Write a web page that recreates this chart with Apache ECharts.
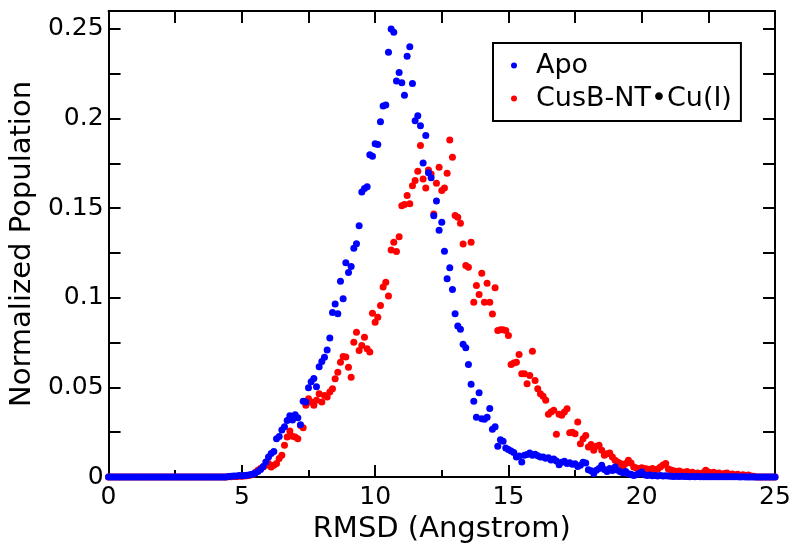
<!DOCTYPE html>
<html>
<head>
<meta charset="utf-8">
<script src="https://cdn.jsdelivr.net/npm/echarts@6/dist/echarts.min.js"></script>
<style>
html,body{margin:0;padding:0;background:#fff;}
#chart{width:800px;height:553px;}
</style>
</head>
<body>
<div id="chart"></div>
<script>
// Histogram bins: RMSD values from 0 to 25 Angstrom in 0.1 steps
const binStart = 0, binStep = 0.1, binCount = 251;

// Apo (blue) normalized population per bin
const apo = [
0,0,0,0,0,0,0,0,0,0,
0,0,0,0,0,0,0,0,0,0,
0,0,0,0,0,0,0,0,0,0,
0,0,0,0,0,0,0,0,0,0,
0,0,0,0,0,0.0003,0.0004,0.0005,0.0006,0.0008,
0.0007,0.0009,0.0010,0.0012,0.0016,0.0022,0.0030,0.0042,0.0058,0.0084,
0.0111,0.0131,0.0142,0.0214,0.0226,0.0262,0.0281,0.0315,0.0342,0.0318,
0.0348,0.0331,0.0292,0.0423,0.0418,0.0498,0.0532,0.0549,0.0503,0.0615,
0.0645,0.0668,0.0709,0.0776,0.0918,0.0965,0.0911,0.1092,0.0994,0.1196,
0.1141,0.1174,0.1276,0.1302,0.1402,0.1590,0.1610,0.1620,0.1798,0.1790,
0.1860,0.1855,0.1982,0.2070,0.2076,0.2370,0.2500,0.2482,0.2210,0.2257,
0.2200,0.2130,0.2347,0.2400,0.2196,0.1988,0.2015,0.1960,0.1752,0.1905,
0.1697,0.1670,0.1458,0.1540,0.1377,0.1421,0.1260,0.1106,0.1167,0.1046,
0.0911,0.0843,0.0825,0.0740,0.0721,0.0628,0.0517,0.0422,0.0334,0.0470,
0.0325,0.0322,0.0334,0.0382,0.0266,0.0280,0.0172,0.0208,0.0199,0.0162,
0.0154,0.0145,0.0136,0.0111,0.0117,0.0084,0.0121,0.0125,0.0134,0.0121,
0.0127,0.0118,0.0112,0.0111,0.0104,0.0108,0.0095,0.0101,0.0089,0.0068,
0.0082,0.0088,0.0075,0.0079,0.0071,0.0074,0.0058,0.0066,0.0082,0.0078,
0.0040,0.0035,0.0019,0.0038,0.0047,0.0065,0.0042,0.0031,0.0048,0.0036,
0.0056,0.0037,0.0029,0.0024,0.0031,0.0018,0.0015,0.0009,0.0013,0.0020,
0.0028,0.0012,0.0009,0.0011,0.0007,0.0009,0.0006,0.0008,0.0005,0.0007,
0.0005,0.0004,0.0003,0.0004,0.0003,0.0004,0.0003,0.0003,0.0002,0.0003,
0.0002,0.0003,0.0002,0.0002,0.0002,0.0001,0.0002,0.0001,0.0001,0.0002,
0.0001,0.0001,0.0001,0.0001,0.0001,0.0001,0.0001,0,0.0001,0,
0,0,0,0,0,0,0,0,0,0,
0
];

// CusB-NT•Cu(I) (red) normalized population per bin
const cusb = [
0,0,0,0,0,0,0,0,0,0,
0,0,0,0,0,0,0,0,0,0,
0,0,0,0,0,0,0,0,0,0,
0,0,0,0,0,0,0,0,0,0,
0,0,0,0,0,0.0002,0.0002,0.0003,0.0003,0.0004,
0.0004,0.0005,0.0007,0.0010,0.0014,0.0025,0.0037,0.0047,0.0056,0.0065,
0.0075,0.0056,0.0065,0.0075,0.0103,0.0121,0.0177,0.0223,0.0257,0.0227,
0.0223,0.0214,0.0288,0.0275,0.0400,0.0437,0.0418,0.0400,0.0428,0.0465,
0.0418,0.0455,0.0446,0.0474,0.0493,0.0548,0.0585,0.0640,0.0673,0.0669,
0.0613,0.0557,0.0752,0.0808,0.0706,0.0734,0.0780,0.0716,0.0697,0.0914,
0.0864,0.0892,0.0957,0.1060,0.1087,0.1010,0.1267,0.1310,0.1258,0.1340,
0.1514,0.1520,0.1570,0.1524,0.1625,0.1654,0.1706,0.1849,0.1663,0.1613,
0.1713,0.1690,0.1468,0.1639,0.1728,0.1598,0.1613,0.1695,0.1880,0.1784,
0.1459,0.1449,0.1416,0.1300,0.1180,0.1170,0.1310,0.0975,0.1069,0.1018,
0.1137,0.0975,0.1081,0.0975,0.0910,0.1056,0.0818,0.0822,0.0822,0.0818,
0.0790,0.0628,0.0636,0.0640,0.0684,0.0576,0.0576,0.0520,0.0567,0.0702,
0.0539,0.0493,0.0465,0.0450,0.0428,0.0350,0.0362,0.0372,0.0238,0.0350,
0.0344,0.0362,0.0381,0.0247,0.0250,0.0242,0.0307,0.0186,0.0214,0.0232,
0.0167,0.0182,0.0149,0.0171,0.0177,0.0149,0.0121,0.0130,0.0134,0.0111,
0.0093,0.0084,0.0075,0.0056,0.0075,0.0093,0.0078,0.0056,0.0050,0.0045,
0.0052,0.0048,0.0045,0.0042,0.0048,0.0039,0.0045,0.0056,0.0067,0.0075,
0.0045,0.0039,0.0035,0.0030,0.0033,0.0028,0.0026,0.0030,0.0022,0.0026,
0.0019,0.0022,0.0017,0.0024,0.0037,0.0028,0.0022,0.0026,0.0019,0.0022,
0.0015,0.0019,0.0022,0.0013,0.0017,0.0011,0.0015,0.0009,0.0013,0.0008,
0.0011,0.0006,0.0004,0,0,0,0,0,0,0,
0
];

const seriesNames = ['Apo', 'CusB-NT\u2022Cu(I)'];
const xTitle = 'RMSD (Angstrom)';
const yTitle = 'Normalized Population';

const rmsd = [];
for (let i = 0; i < binCount; i++) rmsd.push(+(binStart + i * binStep).toFixed(1));

const FONT = 'DejaVu Sans';
const black = '#000';
const lineW = 2;

function yLabel(v) {
  const r = v / 0.05;
  if (Math.abs(r - Math.round(r)) > 1e-6 || v > 0.2500001) return '';
  return String(+v.toFixed(3));
}

const chart = echarts.init(document.getElementById('chart'), null, {renderer: 'canvas'});
chart.setOption({
  animation: false,
  backgroundColor: '#fff',
  grid: {left: 107, top: 11, width: 668, height: 466, containLabel: false},
  legend: {
    data: seriesNames,
    orient: 'vertical',
    left: 493,
    top: 43,
    padding: [6, 9, 6, 18],
    itemGap: 0,
    icon: 'circle',
    itemWidth: 6,
    itemHeight: 6,
    borderColor: black,
    borderWidth: 2,
    backgroundColor: '#fff',
    textStyle: {fontFamily: FONT, fontSize: 27, color: black, lineHeight: 33, padding: [0, 0, 0, 14]}
  },
  xAxis: [
    {
      type: 'value', min: 0, max: 25, interval: 5, position: 'bottom',
      name: xTitle, nameLocation: 'middle', nameGap: 28,
      nameTextStyle: {fontFamily: FONT, fontSize: 29, color: black},
      axisLine: {onZero: false, lineStyle: {color: black, width: lineW}},
      axisTick: {inside: true, length: 12, lineStyle: {color: black, width: lineW}},
      minorTick: {show: true, splitNumber: 2, length: 7, lineStyle: {color: black, width: lineW}},
      splitLine: {show: false},
      axisLabel: {fontFamily: FONT, fontSize: 25, color: black, margin: 8}
    },
    {
      type: 'value', min: 0, max: 25, interval: 2.5, position: 'top',
      axisLine: {onZero: false, lineStyle: {color: black, width: lineW}},
      axisTick: {inside: true, length: 12, lineStyle: {color: black, width: lineW}},
      splitLine: {show: false},
      axisLabel: {show: false}
    }
  ],
  yAxis: [
    {
      type: 'value', min: 0, max: 0.26, interval: 0.025, position: 'left',
      name: yTitle, nameLocation: 'middle', nameGap: 68,
      nameTextStyle: {fontFamily: FONT, fontSize: 29, color: black},
      axisLine: {onZero: false, lineStyle: {color: black, width: lineW}},
      axisTick: {inside: true, length: 12, lineStyle: {color: black, width: lineW}},
      splitLine: {show: false},
      axisLabel: {fontFamily: FONT, fontSize: 25, color: black, margin: 5, formatter: yLabel}
    },
    {
      type: 'value', min: 0, max: 0.26, interval: 0.025, position: 'right',
      axisLine: {onZero: false, lineStyle: {color: black, width: lineW}},
      axisTick: {inside: true, length: 12, lineStyle: {color: black, width: lineW}},
      splitLine: {show: false},
      axisLabel: {show: false}
    }
  ],
  series: [
    {
      name: seriesNames[1], type: 'scatter', xAxisIndex: 0, yAxisIndex: 0,
      symbol: 'circle', symbolSize: 7,
      itemStyle: {color: '#ff0000', opacity: 1},
      data: rmsd.map((x, i) => [x, cusb[i]])
    },
    {
      name: seriesNames[0], type: 'scatter', xAxisIndex: 0, yAxisIndex: 0,
      symbol: 'circle', symbolSize: 7,
      itemStyle: {color: '#0000ff', opacity: 1},
      data: rmsd.map((x, i) => [x, apo[i]])
    }
  ]
});
</script>
</body>
</html>
